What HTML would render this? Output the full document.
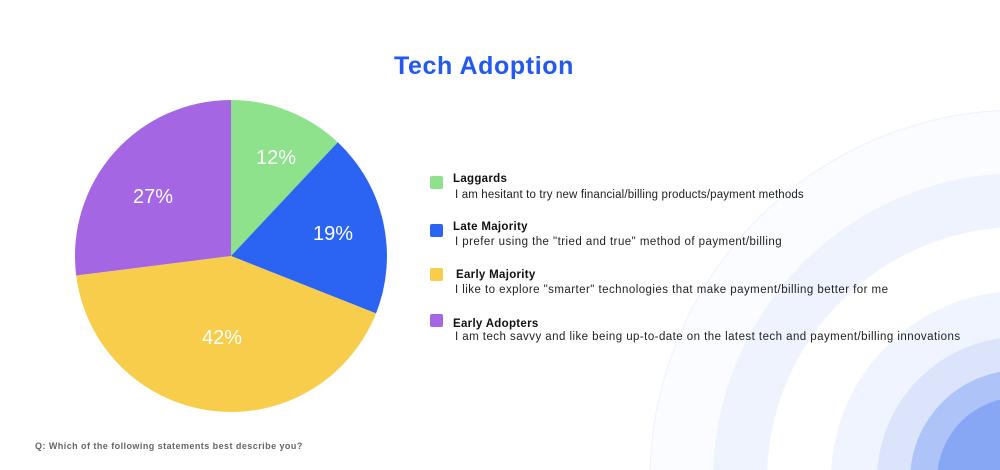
<!DOCTYPE html>
<html><head><meta charset="utf-8"><style>
html,body{margin:0;width:1000px;height:470px;overflow:hidden;background:#fff;font-family:"Liberation Sans",sans-serif;}
.t{position:absolute;white-space:nowrap;}
.sq{position:absolute;left:430px;width:13px;height:13px;border-radius:2px;}
.h{font-weight:bold;font-size:11.5px;color:#111;left:453px;letter-spacing:0.3px;}
.d{font-size:11.5px;color:#222;left:455px;letter-spacing:0.45px;}
</style></head><body>
<svg width="1000" height="470" style="position:absolute;left:0;top:0;overflow:hidden">
<circle cx="1020" cy="480" r="370" fill="#fbfcff" stroke="#eef2fd" stroke-width="1"/>
<circle cx="1020" cy="480" r="307" fill="#eff3fe"/>
<circle cx="1020" cy="480" r="253" fill="#ffffff"/>
<circle cx="1020" cy="480" r="189" fill="#f0f4fe"/>
<circle cx="1020" cy="480" r="143" fill="#dbe4fb"/>
<circle cx="1020" cy="480" r="110" fill="#aec3f8"/>
<circle cx="1020" cy="480" r="83" fill="#87a7f5"/>
<path d="M231,256 L231,100 A156,156 0 0 1 337.8,142.3 Z" fill="#8de28b"/>
<path d="M231,256 L337.8,142.3 A156,156 0 0 1 376,313.4 Z" fill="#2b63f3"/>
<path d="M231,256 L376,313.4 A156,156 0 0 1 76.2,275.5 Z" fill="#f7cd4b"/>
<path d="M231,256 L76.2,275.5 A156,156 0 0 1 231,100 Z" fill="#a466e3"/>
<g fill="#fff" font-family="Liberation Sans,sans-serif" font-size="20" text-anchor="middle">
<text x="276" y="164">12%</text><text x="333" y="240">19%</text>
<text x="222" y="344">42%</text><text x="153" y="203">27%</text></g>
</svg>
<div class="t" style="left:0;width:968px;text-align:center;top:52px;font-size:25px;font-weight:bold;color:#2259f0;letter-spacing:0.6px">Tech Adoption</div>
<div class="sq" style="top:176px;background:#8de28b"></div>
<div class="t h" style="top:173px">Laggards</div>
<div class="t d" style="top:189px;letter-spacing:0.15px">I am hesitant to try new financial/billing products/payment methods</div>
<div class="sq" style="top:224px;background:#2b63f3"></div>
<div class="t h" style="top:221px">Late Majority</div>
<div class="t d" style="top:236px">I prefer using the "tried and true" method of payment/billing</div>
<div class="sq" style="top:268px;background:#f7cd4b"></div>
<div class="t h" style="top:269px;left:456px">Early Majority</div>
<div class="t d" style="top:284px">I like to explore "smarter" technologies that make payment/billing better for me</div>
<div class="sq" style="top:314px;background:#a466e3"></div>
<div class="t h" style="top:318px">Early Adopters</div>
<div class="t d" style="top:331px">I am tech savvy and like being up-to-date on the latest tech and payment/billing innovations</div>
<div class="t" style="left:35px;top:441px;font-size:9px;color:#666;font-weight:bold;letter-spacing:0.45px">Q: Which of the following statements best describe you?</div>
</body></html>
